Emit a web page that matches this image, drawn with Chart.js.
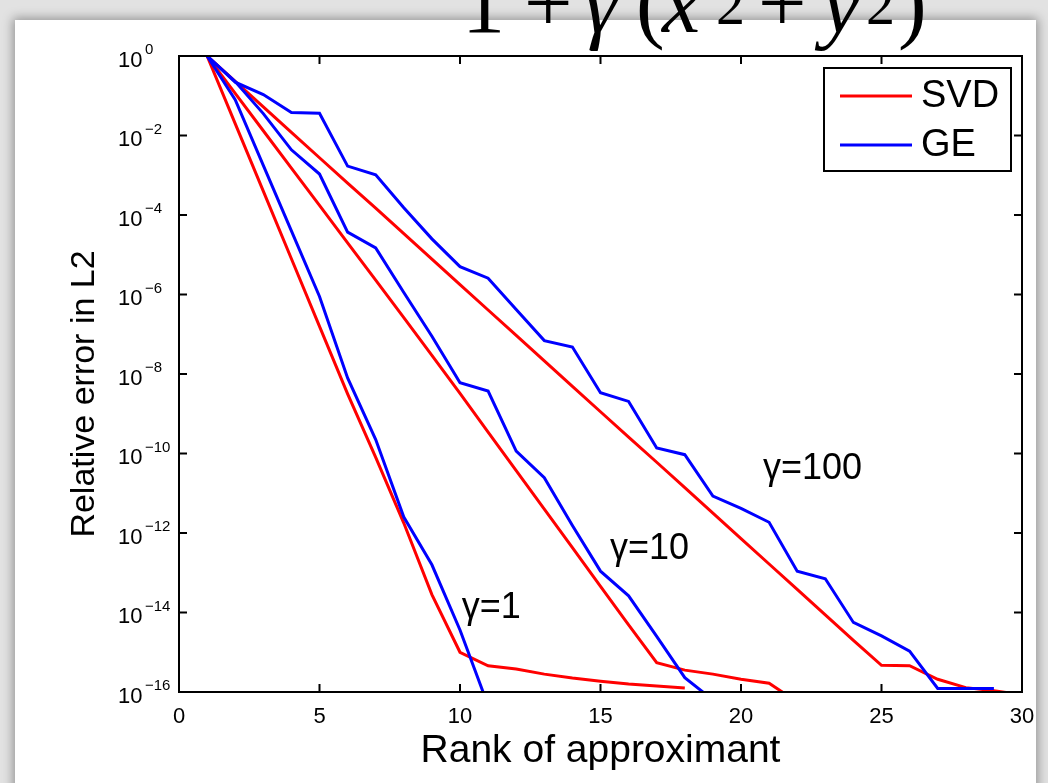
<!DOCTYPE html>
<html>
<head>
<meta charset="utf-8">
<title>Relative error vs rank</title>
<script src="https://cdn.jsdelivr.net/npm/chart.js@4.4.0/dist/chart.umd.min.js"></script>
<style>
html, body { margin: 0; padding: 0; background: #e2e2e2; overflow: hidden; }
#page { position: absolute; left: 15px; top: 20px; width: 1021px; height: 800px; background: #fff;
        box-shadow: 0 0 10px 2px rgba(0, 0, 0, 0.35); }
#wrap { position: absolute; left: 0; top: 0; width: 1048px; height: 783px; }
</style>
</head>
<body>
<div id="page"></div>
<div id="wrap"><canvas id="chart" width="1048" height="783"></canvas></div>
<script>
var SANS = "'Liberation Sans', Arial, Helvetica, sans-serif";
var SERIF = "'Liberation Serif', 'Times New Roman', serif";

// rank of the approximant
var ranks = [1, 2, 3, 4, 5, 6, 7, 8, 9, 10, 11, 12, 13, 14, 15,
             16, 17, 18, 19, 20, 21, 22, 23, 24, 25, 26, 27, 28, 29, 30];

// log10 of the relative L2 error, one list per method and gamma
var svdGamma1 = [0, -1.7, -3.4, -5.1, -6.8, -8.5, -10.1, -11.75, -13.55, -15.0,
                 -15.34, -15.42, -15.55, -15.65, -15.73, -15.8, -15.85, -15.9];
var geGamma1 = [0, -1.1, -2.75, -4.4, -6.05, -8.1, -9.65, -11.6, -12.8, -14.44, -16.34];

var svdGamma10 = [0, -0.94, -1.88, -2.82, -3.76, -4.7, -5.64, -6.58, -7.53, -8.49,
                  -9.46, -10.43, -11.4, -12.37, -13.34, -14.31, -15.26, -15.45, -15.55, -15.68,
                  -15.78, -16.25];
var geGamma10 = [0, -0.64, -1.45, -2.36, -2.97, -4.43, -4.83, -5.95, -7.05, -8.22,
                 -8.43, -9.94, -10.61, -11.81, -12.96, -13.58, -14.6, -15.64, -16.2];

var svdGamma100 = [0, -0.64, -1.28, -1.92, -2.56, -3.2, -3.83, -4.47, -5.11, -5.75,
                   -6.39, -7.03, -7.67, -8.31, -8.95, -9.59, -10.22, -10.86, -11.5, -12.14,
                   -12.78, -13.42, -14.06, -14.7, -15.33, -15.34, -15.68, -15.89, -15.97, -16.07];
var geGamma100 = [0, -0.66, -0.97, -1.42, -1.44, -2.77, -2.99, -3.82, -4.6, -5.3,
                  -5.59, -6.38, -7.16, -7.32, -8.47, -8.69, -9.86, -10.03, -11.07, -11.38,
                  -11.73, -12.96, -13.15, -14.25, -14.59, -14.97, -15.91, -15.91, -15.91];

var xTicks = [0, 5, 10, 15, 20, 25, 30];
var yTickExps = [0, -2, -4, -6, -8, -10, -12, -14, -16];

var legendNames = ['SVD', 'GE'];
var legendColors = ['#ff0000', '#0000ff'];

// curve labels: text, rank, log10 error at the text baseline
var curveLabels = ['\u03b3=1', '\u03b3=10', '\u03b3=100'];
var curveLabelX = [10.06, 15.34, 20.78];
var curveLabelY = [-14.13, -12.66, -10.65];

function points(logs) {
    return logs.map(function(v, i) {
        return { x: ranks[i], y: Math.pow(10, v) };
    });
}

function series(logs, color, drawOrder) {
    return {
        data: points(logs),
        borderColor: color,
        backgroundColor: color,
        borderWidth: 3,
        pointRadius: 0,
        tension: 0,
        fill: false,
        order: drawOrder
    };
}

// box, inward ticks, y tick labels with exponents, legend and curve labels
var decorations = {
    id: 'decorations',
    afterDatasetsDraw: function(chart) {
        var ctx = chart.ctx;
        var a = chart.chartArea;
        var xs = chart.scales.x;
        var ys = chart.scales.y;
        var tickLen = 8;

        ctx.save();
        ctx.strokeStyle = '#000';
        ctx.lineWidth = 2;
        ctx.strokeRect(a.left, a.top, a.right - a.left, a.bottom - a.top);

        ctx.beginPath();
        xTicks.forEach(function(v) {
            var px = xs.getPixelForValue(v);
            ctx.moveTo(px, a.bottom); ctx.lineTo(px, a.bottom - tickLen);
            ctx.moveTo(px, a.top); ctx.lineTo(px, a.top + tickLen);
        });
        yTickExps.forEach(function(e) {
            var py = ys.getPixelForValue(Math.pow(10, e));
            ctx.moveTo(a.left, py); ctx.lineTo(a.left + tickLen, py);
            ctx.moveTo(a.right, py); ctx.lineTo(a.right - tickLen, py);
        });
        ctx.stroke();

        // 10 with a raised exponent
        ctx.fillStyle = '#000';
        ctx.textAlign = 'left';
        ctx.textBaseline = 'alphabetic';
        yTickExps.forEach(function(e) {
            var py = ys.getPixelForValue(Math.pow(10, e));
            ctx.font = '22px ' + SANS;
            ctx.fillText('10', 118, py + 10.5);
            ctx.font = '15px ' + SANS;
            ctx.fillText(e === 0 ? '0' : '\u2212' + (-e), 145, py - 2);
        });

        // y axis label, rotated
        ctx.save();
        ctx.translate(85, 394);
        ctx.rotate(-Math.PI / 2);
        ctx.font = '34px ' + SANS;
        ctx.textAlign = 'center';
        ctx.textBaseline = 'middle';
        ctx.fillText('Relative error in L2', 0, 0);
        ctx.restore();

        // legend box in the upper right corner
        var lx = 824, ly = 68, lw = 187, lh = 103;
        ctx.fillStyle = '#fff';
        ctx.fillRect(lx, ly, lw, lh);
        ctx.strokeRect(lx, ly, lw, lh);
        ctx.font = '38px ' + SANS;
        ctx.textBaseline = 'middle';
        legendNames.forEach(function(name, i) {
            var y = ly + 28 + i * 49;
            ctx.strokeStyle = legendColors[i];
            ctx.lineWidth = 3;
            ctx.beginPath();
            ctx.moveTo(lx + 16, y);
            ctx.lineTo(lx + 88, y);
            ctx.stroke();
            ctx.fillStyle = '#000';
            ctx.fillText(name, lx + 97, y + 1);
        });

        ctx.font = '36px ' + SANS;
        ctx.textBaseline = 'alphabetic';
        curveLabels.forEach(function(t, i) {
            ctx.fillText(t, xs.getPixelForValue(curveLabelX[i]),
                         ys.getPixelForValue(Math.pow(10, curveLabelY[i])));
        });
        ctx.restore();
    }
};

// kernel formula above the axes, partly off the top edge
var formula = {
    id: 'formula',
    afterDraw: function(chart) {
        var ctx = chart.ctx;
        var base = 32, sup = 24;
        var parts = [
            ['1', 462, base, 'normal', 86],
            ['+', 524, base, 'normal', 86],
            ['\u03b3', 584, base, 'italic', 86],
            ['(', 636, base, 'normal', 86],
            ['x', 662, base, 'italic', 86],
            ['2', 716, sup, 'normal', 58],
            ['+', 758, base, 'normal', 86],
            ['y', 822, base, 'italic', 86],
            ['2', 866, sup, 'normal', 58],
            [')', 898, base, 'normal', 86]
        ];
        ctx.save();
        ctx.fillStyle = '#000';
        ctx.textAlign = 'left';
        ctx.textBaseline = 'alphabetic';
        parts.forEach(function(p) {
            ctx.font = p[3] + ' ' + p[4] + 'px ' + SERIF;
            ctx.fillText(p[0], p[1], p[2]);
        });
        ctx.restore();
    }
};

new Chart(document.getElementById('chart').getContext('2d'), {
    type: 'line',
    data: {
        datasets: [
            series(svdGamma1, legendColors[0], 2),
            series(geGamma1, legendColors[1], 1),
            series(svdGamma10, legendColors[0], 2),
            series(geGamma10, legendColors[1], 1),
            series(svdGamma100, legendColors[0], 2),
            series(geGamma100, legendColors[1], 1)
        ]
    },
    options: {
        responsive: false,
        animation: false,
        events: [],
        layout: { padding: { top: 56, right: 26, left: 0, bottom: 0 } },
        plugins: {
            legend: { display: false },
            tooltip: { enabled: false }
        },
        scales: {
            x: {
                type: 'linear',
                min: 0,
                max: 30,
                grid: { display: false, drawTicks: false },
                border: { display: false },
                ticks: {
                    stepSize: 5,
                    padding: 12,
                    color: '#000',
                    maxRotation: 0,
                    font: { family: SANS, size: 22 }
                },
                title: {
                    display: true,
                    text: 'Rank of approximant',
                    color: '#000',
                    font: { family: SANS, size: 39 },
                    padding: { top: 0, bottom: 8 }
                },
                afterFit: function(scale) { scale.height = 91; }
            },
            y: {
                type: 'logarithmic',
                min: 1e-16,
                max: 1,
                grid: { display: false, drawTicks: false },
                border: { display: false },
                ticks: { display: false },
                afterBuildTicks: function(scale) {
                    scale.ticks = yTickExps.map(function(e) { return { value: Math.pow(10, e) }; });
                },
                title: { display: false },
                afterFit: function(scale) { scale.width = 179; }
            }
        }
    },
    plugins: [decorations, formula]
});
</script>
</body>
</html>
